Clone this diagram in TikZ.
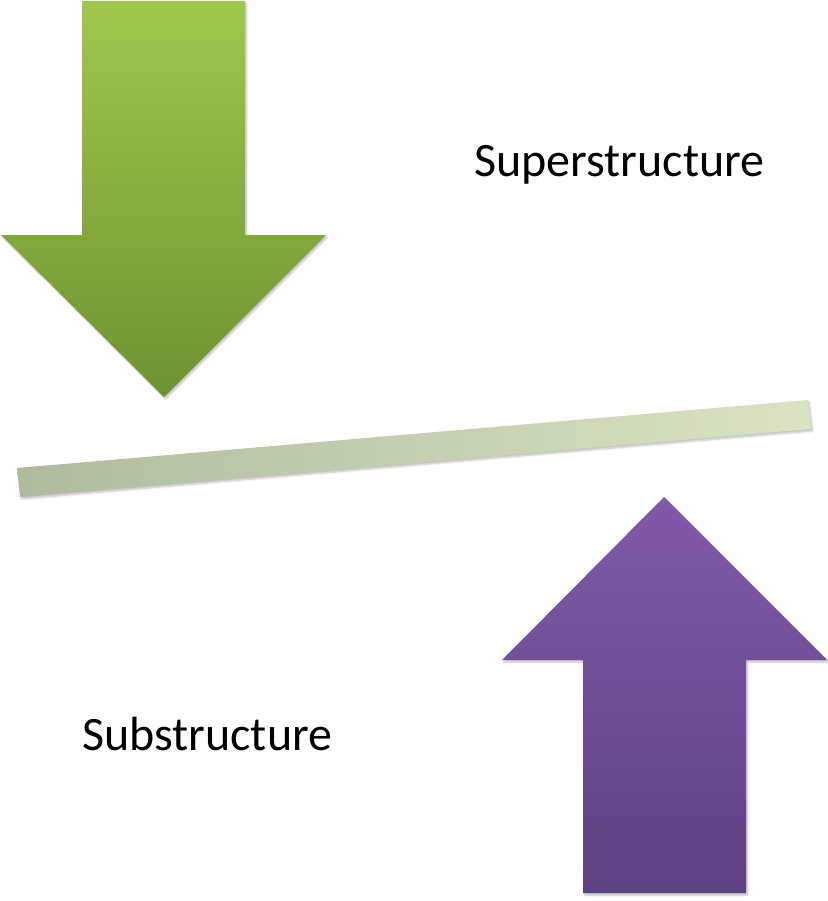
\documentclass[tikz,border=0pt]{standalone}
\usepackage{fontspec}
\setmainfont{Carlito}
\usetikzlibrary{shadows.blur}
\definecolor{gtop}{HTML}{9FC84B}
\definecolor{gbot}{HTML}{6F9232}
\definecolor{ptop}{HTML}{7F5AA9}
\definecolor{pbot}{HTML}{5E4383}
\definecolor{barL}{HTML}{AEBB9E}
\definecolor{barR}{HTML}{D8E4C3}
\tikzset{
  shade/.style={blur shadow={shadow xshift=1.5pt,shadow yshift=-2pt,shadow blur steps=6,shadow opacity=25}},
  lbl/.style={font=\fontsize{48}{56}\selectfont, text=black, inner sep=0pt, anchor=base west}
}
\begin{document}
\begin{tikzpicture}[x=1pt,y=-1pt]
\useasboundingbox (0,0) rectangle (827,901);
% green down arrow
\path[shade, top color=gtop, bottom color=gbot]
  (82,1) -- (245,1) -- (245,235) -- (326,235) -- (164,397) -- (1,235) -- (82,235) -- cycle;
% bar
\path[shade, left color=barL, right color=barR]
  (17,468) -- (808,400) -- (811,429) -- (20,497) -- cycle;
% purple up arrow
\path[shade, top color=ptop, bottom color=pbot]
  (664,497) -- (827,660) -- (746,660) -- (746,893) -- (583,893) -- (583,660) -- (502,660) -- cycle;
\node[lbl] (sup) at (474,177) {Superstructure};
\node[lbl] (sub) at (82,750) {Substructure};
\end{tikzpicture}
\end{document}
